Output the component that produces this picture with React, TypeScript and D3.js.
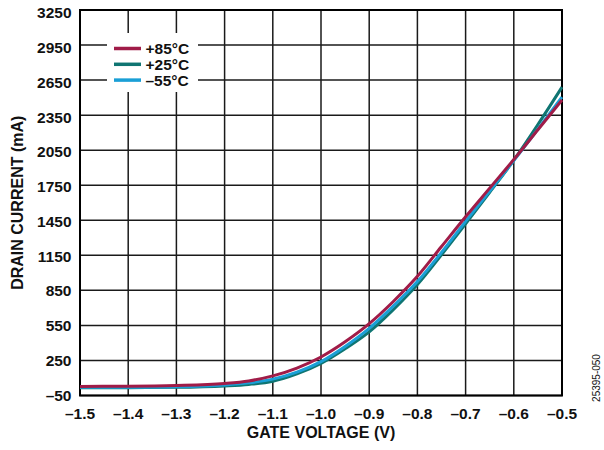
import React from "react";
import * as d3 from "d3";

const voltages = [-1.5, -1.4, -1.3, -1.2, -1.15, -1.1, -1.05, -1.0, -0.95, -0.9, -0.85, -0.8, -0.75, -0.7, -0.65, -0.6, -0.55, -0.5];
const current85 = [28, 29, 35, 53, 75, 118, 185, 280, 410, 565, 755, 970, 1225, 1480, 1725, 1970, 2225, 2480];
const current25 = [16, 17, 20, 32, 45, 72, 135, 225, 350, 495, 685, 900, 1155, 1420, 1690, 1965, 2270, 2590];
const currentM55 = [20, 21, 25, 40, 58, 90, 150, 240, 370, 525, 715, 925, 1175, 1440, 1700, 1960, 2230, 2505];

const xTicks = [-1.5, -1.4, -1.3, -1.2, -1.1, -1.0, -0.9, -0.8, -0.7, -0.6, -0.5];
const yTicks = [-50, 250, 550, 850, 1150, 1450, 1750, 2050, 2350, 2650, 2950, 3250];

const seriesNames = ["+25°C", "–55°C", "+85°C"];
const seriesColors = ["#0f7572", "#1a9fd6", "#a01c48"];
const seriesData = [current25, currentM55, current85];
const legendOrder = [2, 0, 1];

const W = 604, H = 450;
const L = 80, R = 562, T = 10, B = 395.5;
const font = "'Liberation Sans', Arial, sans-serif";

const fmt = (v: number) => (v < 0 ? "–" + Math.abs(v).toFixed(1) : v.toFixed(1));
const fmtY = (v: number) => (v < 0 ? "–" + Math.abs(v) : String(v));

export default function App() {
  const x = d3.scaleLinear().domain([-1.5, -0.5]).range([L, R]);
  const y = d3.scaleLinear().domain([-50, 3250]).range([B, T]);
  const yLab = d3.scaleLinear().domain([-50, 3250]).range([395, 12.8]);
  const line = d3
    .line<number>()
    .x((_, i) => x(voltages[i]))
    .y((d) => y(d))
    .curve(d3.curveMonotoneX);

  return (
    <svg width={W} height={H} style={{ position: "absolute", left: 0, top: 0, background: "#fff" }} fontFamily={font}>
      {xTicks.map((t) => (
        <line key={"gx" + t} x1={x(t)} x2={x(t)} y1={T} y2={B} stroke="#1a1a1a" strokeWidth={1.5} />
      ))}
      {yTicks.map((t) => (
        <line key={"gy" + t} x1={L} x2={R} y1={y(t)} y2={y(t)} stroke="#1a1a1a" strokeWidth={1.5} />
      ))}
      <rect x={107} y={33} width={91} height={59} fill="#fff" />
      <rect x={L} y={T} width={R - L} height={B - T} fill="none" stroke="#000" strokeWidth={2} />
      <defs>
        <clipPath id="plotclip">
          <rect x={L} y={T} width={R - L + 2} height={B - T} />
        </clipPath>
      </defs>
      <g clipPath="url(#plotclip)">
        {seriesData.map((s, i) => (
          <path key={i} d={line(s) || ""} fill="none" stroke={seriesColors[i]} strokeWidth={3} />
        ))}
      </g>
      {legendOrder.map((si, k) => {
        const ly = 48.5 + k * 15.8;
        return (
          <g key={"lg" + k}>
            <line x1={114} x2={141} y1={ly} y2={ly} stroke={seriesColors[si]} strokeWidth={3.5} />
            <text x={145.5} y={ly} dy="0.36em" fontSize={15.5} fontWeight="bold" fill="#111">
              {seriesNames[si]}
            </text>
          </g>
        );
      })}
      {yTicks.map((t) => (
        <text key={"ty" + t} x={71.5} y={yLab(t)} dy="0.36em" textAnchor="end" fontSize={15.5} fontWeight="bold" fill="#111">
          {fmtY(t)}
        </text>
      ))}
      {xTicks.map((t) => (
        <text key={"tx" + t} x={x(t)} y={418.5} textAnchor="middle" fontSize={15.5} fontWeight="bold" fill="#111">
          {fmt(t)}
        </text>
      ))}
      <text x={(L + R) / 2} y={438} textAnchor="middle" fontSize={16} fontWeight="bold" fill="#111">
        GATE VOLTAGE (V)
      </text>
      <text transform={`translate(23,${(T + B) / 2}) rotate(-90)`} textAnchor="middle" fontSize={16} fontWeight="bold" fill="#111">
        DRAIN CURRENT (mA)
      </text>
      <text transform={`translate(600,378) rotate(-90)`} textAnchor="middle" fontSize={10} fill="#111">
        25395-050
      </text>
    </svg>
  );
}
